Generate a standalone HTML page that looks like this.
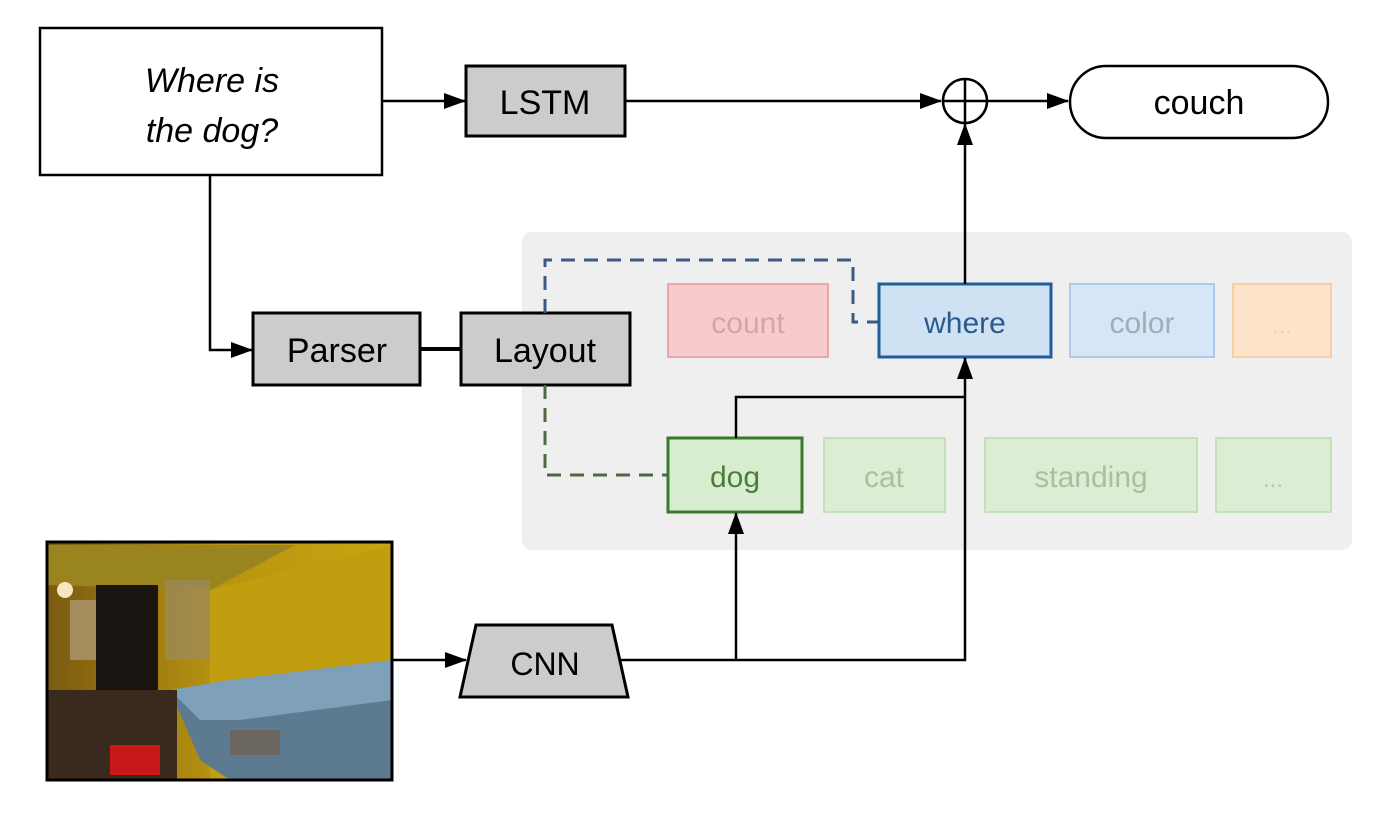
<!DOCTYPE html>
<html><head><meta charset="utf-8"><style>
html,body{margin:0;padding:0;background:#fff;}
svg{display:block;}
text{font-family:"Liberation Sans",Arial,sans-serif;}
</style></head><body>
<svg width="1400" height="820" viewBox="0 0 1400 820" xmlns="http://www.w3.org/2000/svg">
<defs>
<marker id="ah" markerWidth="10" markerHeight="10" refX="9" refY="5" orient="auto" markerUnits="userSpaceOnUse">
<path d="M0,0 L10,5 L0,10 Z" fill="#000"/></marker>
<marker id="ah2" markerWidth="22" markerHeight="16" refX="21" refY="8" orient="auto" markerUnits="userSpaceOnUse">
<path d="M0,0 L22,8 L0,16 Z" fill="#000"/></marker>
<linearGradient id="wall" x1="0" y1="0" x2="1" y2="0">
<stop offset="0" stop-color="#7a5a10"/><stop offset="0.5" stop-color="#b8940f"/><stop offset="1" stop-color="#c9a512"/></linearGradient>
</defs>

<!-- gray panel -->
<rect x="522" y="232" width="830" height="318" rx="10" fill="#efefef"/>

<!-- question box -->
<rect x="40" y="28" width="342" height="147" fill="#fff" stroke="#000" stroke-width="2.5"/>
<text x="212" y="92" font-size="34" font-style="italic" text-anchor="middle">Where is</text>
<text x="212" y="142" font-size="34" font-style="italic" text-anchor="middle">the dog?</text>

<!-- LSTM -->
<line x1="382" y1="101" x2="465" y2="101" stroke="#000" stroke-width="2.5" marker-end="url(#ah2)"/>
<rect x="466" y="66" width="159" height="70" fill="#cccccc" stroke="#000" stroke-width="3"/>
<text x="545" y="114" font-size="34" text-anchor="middle">LSTM</text>
<line x1="625" y1="101" x2="941" y2="101" stroke="#000" stroke-width="2.5" marker-end="url(#ah2)"/>

<!-- plus circle -->
<circle cx="965" cy="101" r="22" fill="#fff" stroke="#000" stroke-width="2.5"/>
<line x1="943" y1="101" x2="987" y2="101" stroke="#000" stroke-width="2.5"/>
<line x1="965" y1="79" x2="965" y2="123" stroke="#000" stroke-width="2.5"/>
<line x1="987" y1="101" x2="1068" y2="101" stroke="#000" stroke-width="2.5" marker-end="url(#ah2)"/>

<!-- couch -->
<rect x="1070" y="66" width="258" height="72" rx="36" fill="#fff" stroke="#000" stroke-width="2.5"/>
<text x="1199" y="114" font-size="34" text-anchor="middle">couch</text>

<!-- question to parser -->
<polyline points="210,175 210,350 252,350" fill="none" stroke="#000" stroke-width="2.5" marker-end="url(#ah2)"/>
<rect x="253" y="313" width="167" height="72" fill="#cccccc" stroke="#000" stroke-width="3"/>
<text x="337" y="362" font-size="34" text-anchor="middle">Parser</text>
<line x1="420" y1="349" x2="461" y2="349" stroke="#000" stroke-width="4"/>
<rect x="461" y="313" width="169" height="72" fill="#cccccc" stroke="#000" stroke-width="3"/>
<text x="545" y="362" font-size="34" text-anchor="middle">Layout</text>

<!-- dashed -->
<polyline points="545,313 545,260 853,260 853,322 878,322" fill="none" stroke="#3d5a80" stroke-width="3" stroke-dasharray="14,9"/>
<polyline points="545,385 545,475 668,475" fill="none" stroke="#4e6a44" stroke-width="3" stroke-dasharray="14,9"/>

<!-- modules row 1 -->
<rect x="668" y="284" width="160" height="73" fill="#f7cbce" stroke="#eaa6ab" stroke-width="2"/>
<text x="748" y="333" font-size="30" fill="#d7a3a6" text-anchor="middle">count</text>
<rect x="879" y="284" width="172" height="73" fill="#cfe2f4" stroke="#1f5d9c" stroke-width="3"/>
<text x="965" y="333" font-size="30" fill="#2a5a8e" text-anchor="middle">where</text>
<rect x="1070" y="284" width="144" height="73" fill="#d5e6f6" stroke="#abcaec" stroke-width="2"/>
<text x="1142" y="333" font-size="30" fill="#a2acb8" text-anchor="middle">color</text>
<rect x="1233" y="284" width="98" height="73" fill="#fde4ca" stroke="#f7cfa6" stroke-width="2"/>
<text x="1282" y="333" font-size="24" fill="#e8cfb5" text-anchor="middle">...</text>

<!-- modules row 2 -->
<rect x="668" y="438" width="134" height="74" fill="#d8ecd0" stroke="#3b7a2e" stroke-width="3"/>
<text x="735" y="487" font-size="30" fill="#4a7f3a" text-anchor="middle">dog</text>
<rect x="824" y="438" width="121" height="74" fill="#dcedd4" stroke="#c5e0b9" stroke-width="2"/>
<text x="884" y="487" font-size="30" fill="#a9bfa2" text-anchor="middle">cat</text>
<rect x="985" y="438" width="212" height="74" fill="#dcedd4" stroke="#c5e0b9" stroke-width="2"/>
<text x="1091" y="487" font-size="30" fill="#a9bfa2" text-anchor="middle">standing</text>
<rect x="1216" y="438" width="115" height="74" fill="#dcedd4" stroke="#c5e0b9" stroke-width="2"/>
<text x="1273" y="487" font-size="24" fill="#b3c7ad" text-anchor="middle">...</text>

<!-- connections -->
<line x1="965" y1="284" x2="965" y2="124" stroke="#000" stroke-width="2.5" marker-end="url(#ah2)"/>
<polyline points="736,438 736,397 965,397" fill="none" stroke="#000" stroke-width="2.5"/>
<polyline points="615,660 965,660 965,358" fill="none" stroke="#000" stroke-width="2.5" marker-end="url(#ah2)"/>
<line x1="736" y1="660" x2="736" y2="513" stroke="#000" stroke-width="2.5" marker-end="url(#ah2)"/>

<!-- CNN -->
<line x1="392" y1="660" x2="466" y2="660" stroke="#000" stroke-width="2.5" marker-end="url(#ah2)"/>
<polygon points="476,625 612,625 628,697 460,697" fill="#cccccc" stroke="#000" stroke-width="3"/>
<text x="545" y="675" font-size="32" text-anchor="middle">CNN</text>

<!-- image -->
<g>
<rect x="47" y="542" width="345" height="238" fill="url(#wall)"/>
<polygon points="47,545 295,545 210,590 47,585" fill="#9a8420"/>
<polygon points="210,590 392,545 392,780 210,780" fill="#c09e10"/>
<rect x="96" y="585" width="62" height="110" fill="#1a1510"/>
<rect x="70" y="600" width="26" height="60" fill="#b9a990" opacity="0.6"/>
<circle cx="65" cy="590" r="8" fill="#f4e7c0"/>
<rect x="165" y="580" width="45" height="80" fill="#9b8a60" opacity="0.7"/>
<polygon points="170,690 230,680 392,660 392,780 230,780 200,760" fill="#5c7a90"/>
<polygon points="170,690 230,680 392,660 392,700 240,720 200,720" fill="#7ea0b8"/>
<rect x="47" y="690" width="130" height="90" fill="#3a2a1e"/>
<rect x="110" y="745" width="50" height="30" fill="#c81818"/>
<rect x="230" y="730" width="50" height="25" fill="#6b6660"/>
<rect x="47" y="542" width="345" height="238" fill="none" stroke="#000" stroke-width="3"/>
</g>
</svg>
</body></html>
